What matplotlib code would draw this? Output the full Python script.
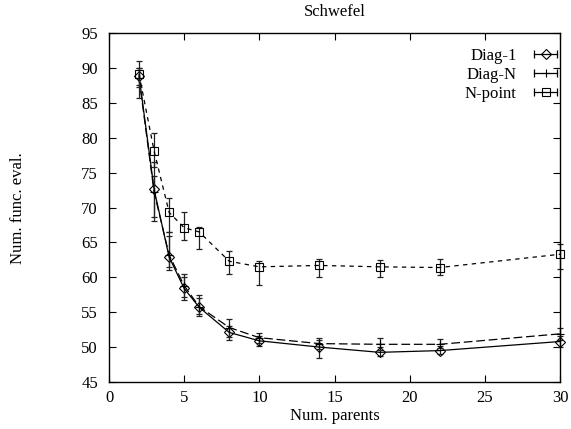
import numpy as np
import matplotlib
matplotlib.use('Agg')
import matplotlib.pyplot as plt
from matplotlib.lines import Line2D
from matplotlib.legend_handler import HandlerLine2D, HandlerTuple

plt.rcParams['font.family'] = 'Liberation Serif'
plt.rcParams['font.size'] = 12

parents = [2, 3, 4, 5, 6, 8, 10, 14, 18, 22, 30]

diag1 = [88.8, 72.6, 62.9, 58.4, 55.7, 52.1, 50.9, 50.0, 49.25, 49.5, 50.8]
diag1_lo = [85.7, 68.7, 61.0, 56.8, 54.8, 51.0, 50.2, 48.4, 48.7, 49.0, 50.0]
diag1_hi = [90.0, 74.5, 65.9, 60.0, 57.0, 53.0, 51.6, 51.0, 50.0, 50.2, 51.6]

diagN = [88.5, 72.2, 63.2, 58.8, 55.8, 52.8, 51.35, 50.5, 50.4, 50.4, 51.9]
diagN_lo = [87.5, 68.1, 61.5, 57.2, 54.5, 51.5, 50.6, 49.7, 49.6, 49.8, 51.0]
diagN_hi = [90.0, 76.5, 66.5, 60.5, 57.5, 54.0, 52.0, 51.3, 51.3, 51.1, 52.8]

npoint = [89.1, 78.1, 69.3, 67.1, 66.5, 62.3, 61.5, 61.7, 61.5, 61.4, 63.3]
npoint_lo = [87.3, 75.8, 66.5, 65.3, 64.05, 60.5, 58.9, 60.1, 60.0, 60.3, 61.2]
npoint_hi = [91.0, 80.7, 71.4, 69.4, 67.25, 63.8, 62.3, 62.6, 62.5, 62.6, 64.7]

series = [
    ('Diag-1', diag1, diag1_lo, diag1_hi, 'D', 5.0, '-'),
    ('Diag-N', diagN, diagN_lo, diagN_hi, '+', 6.0, (0, (7, 3))),
    ('N-point', npoint, npoint_lo, npoint_hi, 's', 6.0, (0, (3.5, 3.5))),
]

fig = plt.figure(figsize=(5.71, 4.29), dpi=100)
ax = fig.add_axes([109/571, 1-382/429, (560-109)/571, (382-33)/429])

handles = []
hmap = {}
for name, y, lo, hi, mk, ms, ls in series:
    y = np.array(y)
    err = [y - np.array(lo), np.array(hi) - y]
    eb = ax.errorbar(parents, y, yerr=err, fmt='none', ecolor='#222222',
                     elinewidth=0.9, capsize=2.4, capthick=0.9)
    for art in eb.get_children():
        art.set_clip_on(False)
    ax.plot(parents, y, color='black', lw=0.9, linestyle=ls, marker=mk,
            markersize=ms, markerfacecolor='none', markeredgecolor='black',
            markeredgewidth=0.8, clip_on=False)
    caps = Line2D([], [], color='black', lw=0.9, marker='|', markersize=6,
                  markeredgewidth=0.9)
    pt = Line2D([], [], color='black', lw=0, marker=mk, markersize=ms,
                markerfacecolor='none', markeredgewidth=0.8)
    hmap[caps] = HandlerLine2D(numpoints=2)
    hmap[pt] = HandlerLine2D(numpoints=1)
    handles.append((caps, pt))
hmap[tuple] = HandlerTuple(ndivide=1, pad=0)

ax.set_xlim(0, 30)
ax.set_ylim(45, 95)
ax.set_xticks(range(0, 31, 5))
ax.set_yticks(range(45, 96, 5))
ax.tick_params(direction='in', top=True, right=True, length=5, width=0.8)
ax.tick_params(axis='x', pad=6)
ax.tick_params(axis='y', pad=8)
for s in ax.spines.values():
    s.set_linewidth(1.0)

leg = ax.legend(handles, [s[0] for s in series], handler_map=hmap,
                loc='upper right', bbox_to_anchor=(1.005, 0.958),
                frameon=False, markerfirst=False,
                handlelength=2.0, handletextpad=0.75, labelspacing=0.18,
                borderaxespad=0, borderpad=0)

fig.text(335/571, 1-12/429, 'Schwefel', ha='center', va='center')
fig.text(335/571, 1-416/429, 'Num. parents', ha='center', va='center')
fig.text(18/571, 1-208/429, 'Num. func. eval.', ha='center', va='center',
         rotation=90)

fig.savefig('out.png', dpi=100)
